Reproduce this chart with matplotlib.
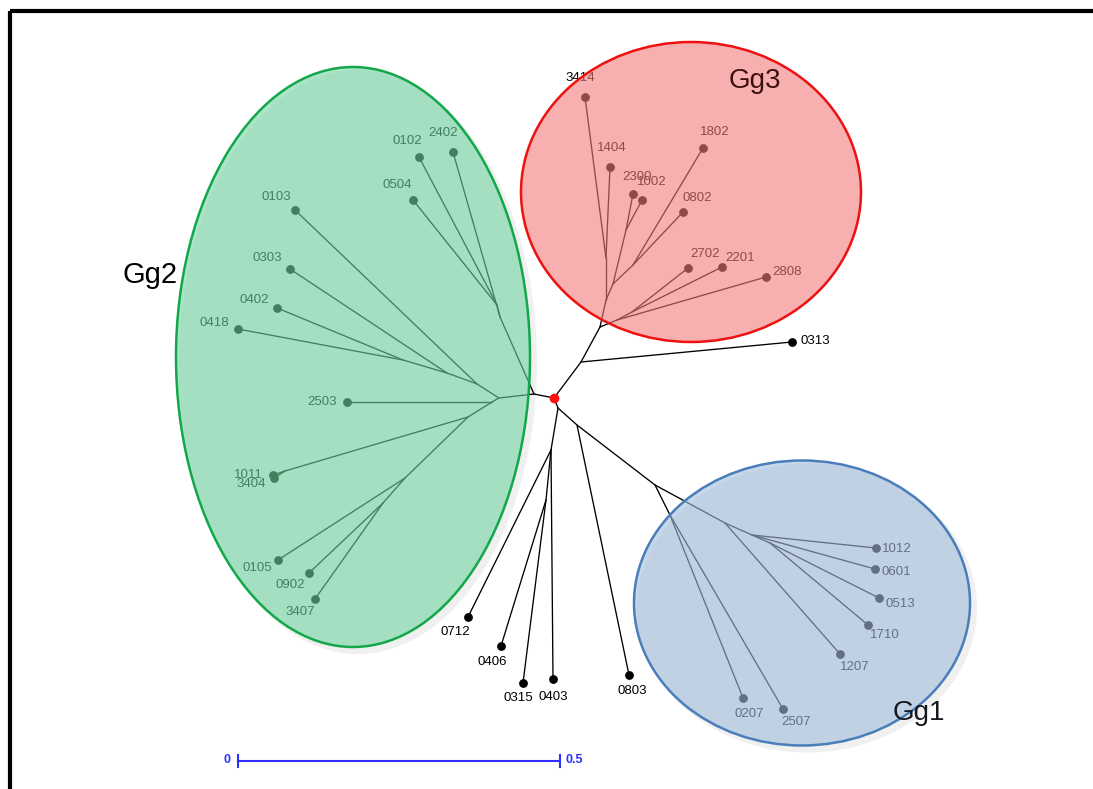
import matplotlib
matplotlib.use('Agg')
import matplotlib.pyplot as plt
from matplotlib.patches import Ellipse, Rectangle

# tree nodes in picture pixels (x right, y down) and their parents
node_name = ['R', 'A', 'G2', 'T2', 'T1', 'N1', 'N2', 'N3', 'L1', 'L2', 'L3', 'L4', 'L5',
             'C', 'B3', 'U', 'U1', 'U2', 'U3', 'U4', 'V', 'V1',
             'D0', 'D1', 'D2', 'E1', 'E2', 'E3', 'E4', 'E5', 'E6']
node_x = [554, 534, 499, 500, 497, 477, 447, 403, 492, 468, 285, 405, 383,
          581, 600, 606, 606, 613, 626, 633, 617, 632,
          558, 551, 546, 577, 655, 670, 725, 752, 770]
node_y = [398, 394, 398, 317, 305, 384, 373, 360, 402, 417, 471, 478, 503,
          362, 327, 300, 258, 284, 230, 265, 320, 312,
          408, 450, 500, 425, 485, 515, 523, 535, 543]
node_parent = [None, 'R', 'A', 'A', 'T2', 'G2', 'N1', 'N2', 'G2', 'L1', 'L2', 'L2', 'L4',
               'R', 'C', 'B3', 'U', 'U', 'U2', 'U2', 'B3', 'V',
               'R', 'D0', 'D1', 'D0', 'E1', 'E2', 'E2', 'E4', 'E5']

# leaves
leaf_name = ['0102', '0504', '2402', '0103', '0303', '0402', '0418', '2503', '1011', '3404',
             '0105', '0902', '3407',
             '3414', '1404', '2300', '1002', '1802', '0802', '2702', '2201', '2808',
             '1012', '0601', '0513', '1710', '1207', '0207', '2507',
             '0313', '0712', '0406', '0315', '0403', '0803']
leaf_x = [419, 413, 453, 295, 290, 277, 238, 347, 273, 274, 278, 309, 315,
          585, 610, 633, 642, 703, 683, 688, 722, 766,
          876, 875, 879, 868, 840, 743, 783,
          792, 468, 501, 523, 553, 629]
leaf_y = [157, 200, 152, 210, 269, 308, 329, 402, 475, 478, 560, 573, 599,
          97, 167, 194, 200, 148, 212, 268, 267, 277,
          548, 569, 598, 625, 654, 698, 709,
          342, 617, 646, 683, 679, 675]
leaf_parent = ['T1', 'T1', 'T2', 'N1', 'N2', 'N3', 'N3', 'L1', 'L3', 'L3', 'L4', 'L5', 'L5',
               'U1', 'U1', 'U3', 'U3', 'U4', 'U4', 'V1', 'V1', 'V',
               'E5', 'E5', 'E6', 'E6', 'E4', 'E3', 'E3',
               'C', 'D1', 'D2', 'D2', 'D1', 'E1']

scale_value = 0.5
px_per_unit = 644

# label offsets from the dot (pixels)
lab_dx = [-12, -16, -10, -19, -23, -23, -24, -25, -25, -23, -21, -19, -15,
          -5, 2, 4, 10, 12, 14, 17, 18, 21,
          21, 21, 21, 17, 15, 6, 13,
          23, -13, -9, -5, 0, 3]
lab_dy = [-16, -15, -19, -13, -11, -8, -6, 0, 0, 6, 8, 12, 13,
          -19, -19, -17, -18, -16, -14, -14, -9, -5,
          1, 3, 6, 10, 13, 16, 13,
          -1, 15, 16, 15, 18, 16]

W, H = 1093, 789
fig = plt.figure(figsize=(W / 100, H / 100), dpi=100)
ax = fig.add_axes([0, 0, 1, 1])
ax.set_xlim(0, W)
ax.set_ylim(H, 0)
ax.axis('off')

plt.rcParams['font.family'] = ['Liberation Sans', 'DejaVu Sans']

pos = {n: (x, y) for n, x, y in zip(node_name, node_x, node_y)}

# branches
for n, p in zip(node_name, node_parent):
    if p is None:
        continue
    ax.plot([pos[p][0], pos[n][0]], [pos[p][1], pos[n][1]], color='black', lw=0.95, zorder=2,
            solid_capstyle='round')
for x, y, p in zip(leaf_x, leaf_y, leaf_parent):
    ax.plot([pos[p][0], x], [pos[p][1], y], color='black', lw=0.95, zorder=2,
            solid_capstyle='round')

ax.plot(leaf_x, leaf_y, 'o', color='black', ms=5.3, zorder=3)
ax.plot([pos['R'][0]], [pos['R'][1]], 'o', color='#ff1010', ms=6, zorder=7)

for name, x, y, dx, dy in zip(leaf_name, leaf_x, leaf_y, lab_dx, lab_dy):
    ax.text(x + dx, y + dy, name, fontsize=9.5, ha='center', va='center', color='black', zorder=3)

# group shadows, fills and outlines
groups = [
    # cx, cy, w, h, fill, edge
    (353, 357, 354, 580, '#70d4a0', '#12a84a'),
    (691, 192, 340, 300, '#f27b7b', '#ee1111'),
    (802, 603, 336, 285, '#a3bddc', '#4a7ebb'),
]
for i, (cx, cy, w, h, fc, ec) in enumerate(groups):
    if i != 1:
        ax.add_patch(Ellipse((cx + 5, cy + 5), w + 4, h + 4, facecolor='#000000', alpha=0.06,
                             edgecolor='none', zorder=1))
    ax.add_patch(Ellipse((cx, cy), w, h, facecolor=fc, alpha=0.6, edgecolor='none', zorder=4))
    ax.add_patch(Ellipse((cx, cy), w, h, facecolor='none', edgecolor=ec, lw=1.8, zorder=5))

ax.text(150, 275, 'Gg2', fontsize=21, ha='center', va='center', color='black', zorder=6)
ax.text(755, 81, 'Gg3', fontsize=20, ha='center', va='center', color='#3d0f0f', zorder=6)
ax.text(919, 713, 'Gg1', fontsize=20, ha='center', va='center', color='#15181f', zorder=6)

# scale bar
x0, yb = 238, 761
x1 = x0 + scale_value * px_per_unit
ax.plot([x0, x1], [yb, yb], color='#3030ff', lw=1.5, zorder=3)
ax.plot([x0, x0], [yb - 6, yb + 6], color='#3030ff', lw=1.5, zorder=3)
ax.plot([x1, x1], [yb - 6, yb + 6], color='#3030ff', lw=1.5, zorder=3)
ax.text(x0 - 8, yb - 1, '0', fontsize=9, color='#3030ff', ha='right', va='center', weight='bold')
ax.text(x1 + 6, yb - 1, str(scale_value), fontsize=9, color='#3030ff', ha='left', va='center',
        weight='bold')

# picture frame
ax.add_patch(Rectangle((10, 11), 2000, 2000, facecolor='none', edgecolor='black', lw=3, zorder=8))

fig.savefig('out.png', dpi=100)
